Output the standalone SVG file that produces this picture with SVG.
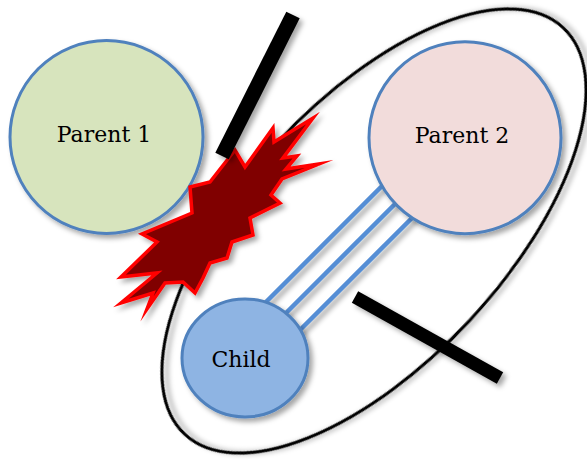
<svg xmlns="http://www.w3.org/2000/svg" width="587" height="460" viewBox="0 0 587 460">
<defs>
<filter id="sh" x="-20%" y="-20%" width="140%" height="140%">
<feDropShadow dx="3.5" dy="3.5" stdDeviation="2.8" flood-color="#000" flood-opacity="0.35"/>
</filter>
</defs>
<style>
.node{stroke:#4f81bd;stroke-width:3;filter:url(#sh)}
.lbl{font-family:"DejaVu Serif","Liberation Serif",serif;font-size:22px;fill:#000;text-anchor:middle}
.link{stroke:#558ed5;stroke-width:4.5;fill:none;filter:url(#sh)}
.bar{stroke:#000;stroke-linecap:butt;filter:url(#sh)}
</style>
<rect width="587" height="460" fill="#fff"/>
<g id="boundary">
<ellipse cx="374" cy="231" rx="277.7" ry="130.9" transform="rotate(-47.07 374 231)" fill="none" stroke="#000" stroke-width="3" filter="url(#sh)"/>
</g>
<g id="connectors">
<line class="link" x1="250" y1="318" x2="400" y2="168"/>
<line class="link" x1="265" y1="334" x2="410" y2="189"/>
<line class="link" x1="280" y1="350" x2="425" y2="205"/>
</g>
<g id="parent1">
<circle class="node" cx="106.5" cy="137" r="96.5" fill="#d7e4bd"/>
<text class="lbl" x="104" y="142">Parent 1</text>
</g>
<g id="parent2">
<circle class="node" cx="465" cy="137.7" r="96" fill="#f2dcdb"/>
<text class="lbl" x="462" y="143">Parent 2</text>
</g>
<g id="child">
<ellipse class="node" cx="245" cy="358" rx="63" ry="59" fill="#8eb4e3"/>
<text class="lbl" x="241" y="367">Child</text>
</g>
<g id="explosion">
<polygon points="190,187 210,182 235,150 245,167 273,128 274,142 313,118 283,158 297,156 286,169 319,164 282,179 271,195 280,203 250,218 253,235 232,242 227,258 210,263 203,278 195,293 183,282 165,283 147,309 153,293 121,303 157,273 121,277 157,242 142,234 192,213" fill="#800000" stroke="#ff0000" stroke-width="3.5" stroke-linejoin="miter" stroke-miterlimit="10" filter="url(#sh)"/>
</g>
<g id="bars">
<line class="bar" x1="293" y1="15" x2="222" y2="156" stroke-width="15"/>
<line class="bar" x1="355" y1="297" x2="500" y2="378" stroke-width="13"/>
</g>
</svg>
